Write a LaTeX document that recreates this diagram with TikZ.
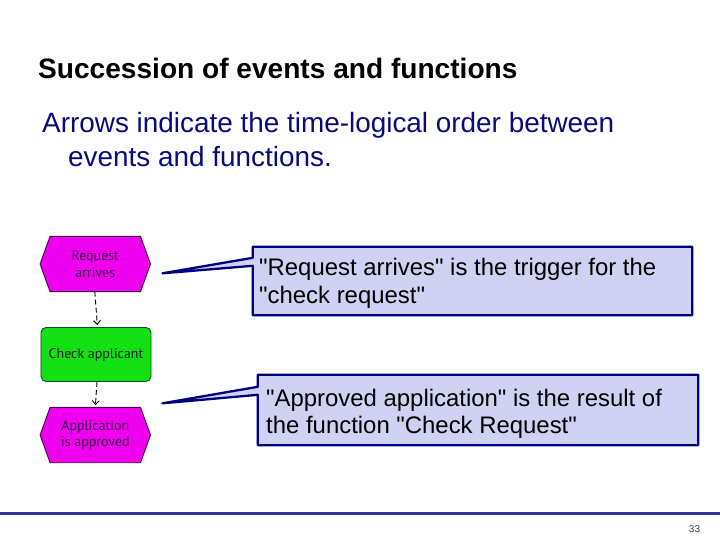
\documentclass[tikz,border=0pt]{standalone}
\usepackage{fontspec}
\setmainfont{Liberation Sans}
\newfontfamily\epcfont{PT Sans}
\usetikzlibrary{arrows.meta,calc,backgrounds}
\definecolor{evfill}{HTML}{EE00EE}
\definecolor{evline}{HTML}{4A004A}
\definecolor{evtext}{HTML}{3A0048}
\definecolor{fnfill}{HTML}{12E012}
\definecolor{fnline}{HTML}{1A4A1A}
\definecolor{fntext}{HTML}{0A200A}
\definecolor{cofill}{HTML}{D0D2F4}
\definecolor{coline}{HTML}{000080}
\definecolor{subnavy}{HTML}{0A0A80}
\definecolor{rulecol}{HTML}{333399}
\newcommand\hexpath[1]{\path[evshape] (#1.west) -- ([xshift=10bp]#1.north west) -- ([xshift=-10bp]#1.north east) -- (#1.east) -- ([xshift=-10bp]#1.south east) -- ([xshift=10bp]#1.south west) -- cycle;}
\newcommand\qq{\textquotedbl}
\tikzset{
  evnode/.style={minimum width=110bp, minimum height=55bp, inner sep=0pt, align=center, text=evtext, font=\epcfont\fontsize{14}{16.4}\selectfont},
  evshape/.style={fill=evfill, draw=evline, line width=0.9bp, line join=round},
  fnnode/.style={minimum width=110bp, minimum height=54bp, inner sep=0pt, rounded corners=5bp, fill=fnfill, draw=fnline, line width=0.9bp, text=fntext, font=\epcfont\fontsize{14}{16.4}\selectfont},
  flowarrow/.style={draw=black, line width=0.9bp, dash pattern=on 5bp off 3bp, -{Straight Barb[length=4bp,width=7bp]}, shorten >=2bp},
  cobox/.style={inner sep=0pt},
  cotext/.style={inner sep=0pt, anchor=base west, font=\fontsize{24}{27.5}\selectfont, text=black},
  coshape/.style={fill=cofill, draw=coline, line width=2.3bp, line join=round},
  titletext/.style={inner sep=0pt, anchor=base west, font=\bfseries\fontsize{28.2}{33}\selectfont, text=black},
  subtext/.style={inner sep=0pt, anchor=base west, font=\fontsize{28}{33}\selectfont, text=subnavy},
}
\begin{document}
\begin{tikzpicture}[x=1bp,y=-1bp]
\useasboundingbox (0,0) rectangle (720,540);
% titles
\node[titletext] (title) at (38,78.3) {Succession of events and functions};
\node[subtext] (sub1) at (42,132.7) {Arrows indicate the time-logical order between};
\node[subtext] (sub2) at (68,166.5) {events and functions.};
% EPC nodes
\node[evnode] (e1) at (95.3,264) {Request\\arrives};
\node[fnnode] (f1) at (96,354.5) {Check applicant};
\node[evnode] (e2) at (95.3,435) {Application\\is approved};
\draw[flowarrow] ([xshift=-0.5bp]e1.south) -- ([xshift=1.5bp]f1.north);
\draw[flowarrow] ([xshift=1bp]f1.south) -- (e2.north);
% callouts
\coordinate (p1) at (162.5,273.3);
\coordinate (p2) at (162.5,403.3);
\node[cobox, minimum width=439bp, minimum height=68bp] (c1) at (472.5,281) {};
\node[cobox, minimum width=440bp, minimum height=70bp] (c2) at (478,410) {};
\node[cotext] (t1a) at (259,276) {\qq Request arrives\qq{} is the trigger for the};
\node[cotext] (t1b) at (259,303) {\qq check request\qq};
\node[cotext] (t2a) at (266,406) {\qq Approved application\qq{} is the result of};
\node[cotext] (t2b) at (266,433) {the function \qq Check Request\qq};
% footer
\coordinate (r1) at (0,513.5);
\coordinate (r2) at (720,513.5);
\draw[rulecol, line width=3bp] (r1) -- (r2);
\node[inner sep=0pt, font=\fontsize{10}{12}\selectfont, text=black!75] (pg) at (694.5,529.5) {33};
\begin{scope}[on background layer]
\fill[white] (0,0) rectangle (720,540);
\hexpath{e1}
\hexpath{e2}
\path[coshape] (c1.north west) -- (c1.north east) -- (c1.south east) -- (c1.south west) -- ($(c1.north west)+(0,19)$) -- (p1) -- ($(c1.north west)+(0,11)$) -- cycle;
\path[coshape] (c2.north west) -- (c2.north east) -- (c2.south east) -- (c2.south west) -- ($(c2.north west)+(0,20)$) -- (p2) -- ($(c2.north west)+(0,12)$) -- cycle;
\end{scope}
\end{tikzpicture}
\end{document}
